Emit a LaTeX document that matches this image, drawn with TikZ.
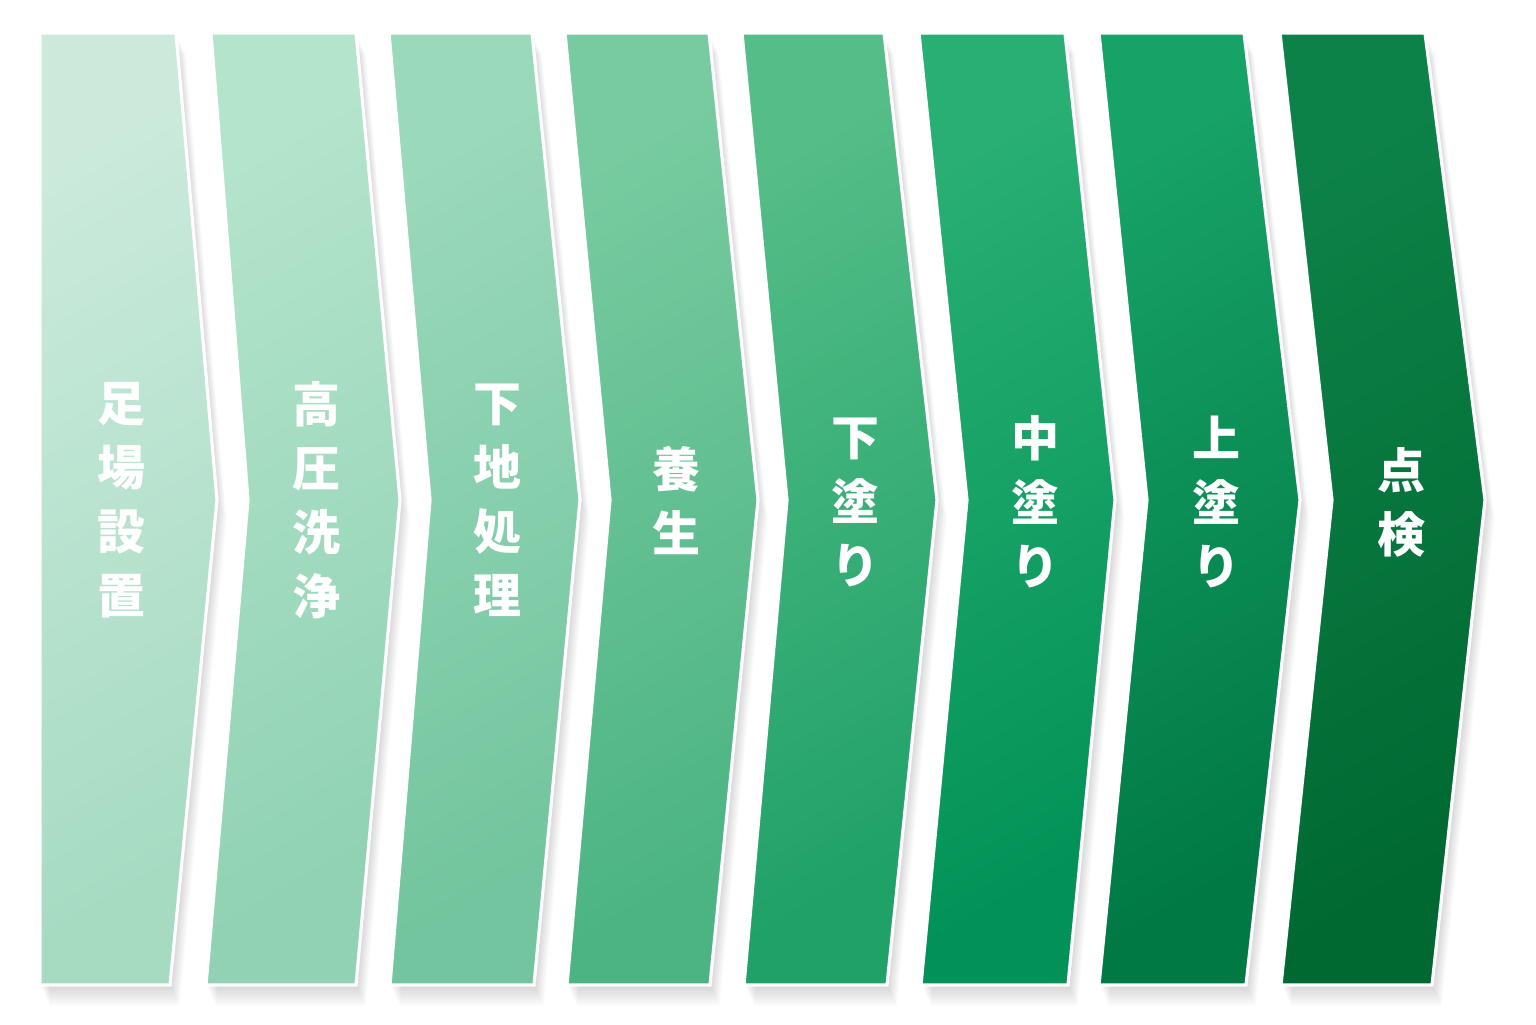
\documentclass[tikz,border=0pt]{standalone}
\usepackage{fontspec}
\newfontfamily\jp{Noto Sans CJK JP}
\definecolor{t1}{HTML}{CBEADC}\definecolor{b1}{HTML}{A6DBC2}
\definecolor{t2}{HTML}{B4E4CC}\definecolor{b2}{HTML}{90D2B3}
\definecolor{t3}{HTML}{9BD9BB}\definecolor{b3}{HTML}{72C59E}
\definecolor{t4}{HTML}{78CBA0}\definecolor{b4}{HTML}{4CB483}
\definecolor{t5}{HTML}{55BD88}\definecolor{b5}{HTML}{1FA168}
\definecolor{t6}{HTML}{29AF73}\definecolor{b6}{HTML}{029257}
\definecolor{t7}{HTML}{17A267}\definecolor{b7}{HTML}{007945}
\definecolor{t8}{HTML}{0D8248}\definecolor{b8}{HTML}{006932}
\def\chA{(40,33) -- (176,33) -- (217,500) -- (170,985) -- (40,985) -- cycle}
\def\chB{(211,33) -- (356,33) -- (400,500) -- (356,985) -- (206,985) -- (248,500) -- cycle}
\def\chC{(389,33) -- (532,33) -- (580,500) -- (534,985) -- (390,985) -- (430,500) -- cycle}
\def\chD{(565,33) -- (709,33) -- (758,500) -- (710,985) -- (567,985) -- (610,500) -- cycle}
\def\chE{(742,33) -- (884,33) -- (937,500) -- (887,985) -- (744,985) -- (787,500) -- cycle}
\def\chF{(919,33) -- (1065,33) -- (1115,500) -- (1068,985) -- (921,985) -- (967,500) -- cycle}
\def\chG{(1099,33) -- (1244,33) -- (1300,500) -- (1246,985) -- (1099,985) -- (1147,500) -- cycle}
\def\chH{(1280,33) -- (1425,33) -- (1485,500) -- (1432,985) -- (1281,985) -- (1332,500) -- cycle}
\tikzset{
  chev/.style={draw=white, line width=1.6pt, line join=miter, shading angle=30},
  shd/.style={fill=black, fill opacity=0.012},
  lbl/.style={text=white, font=\jp\bfseries\fontsize{24}{32}\selectfont,
    align=center, inner sep=0pt},
}
\begin{document}
\begin{tikzpicture}[x=0.5pt, y=-0.5pt]
\useasboundingbox[fill=white] (0,0) rectangle (1536,1024);
% soft shadows
\foreach \k in {1,...,14}{
  \foreach \p in {\chA,\chB,\chC,\chD,\chE,\chF,\chG,\chH}{
    \path[shd, shift={(\k*0.7,\k*1.5)}] \p;
  }
}
% shapes
\path[chev, top color=t1, bottom color=b1, shading angle=30] \chA;
\path[chev, top color=t2, bottom color=b2, shading angle=30] \chB;
\path[chev, top color=t3, bottom color=b3, shading angle=30] \chC;
\path[chev, top color=t4, bottom color=b4, shading angle=30] \chD;
\path[chev, top color=t5, bottom color=b5, shading angle=30] \chE;
\path[chev, top color=t6, bottom color=b6, shading angle=30] \chF;
\path[chev, top color=t7, bottom color=b7, shading angle=30] \chG;
\path[chev, top color=t8, bottom color=b8, shading angle=30] \chH;
% labels
\node[lbl] (l1) at (121,500) {足\\場\\設\\置};
\node[lbl] (l2) at (316,500) {高\\圧\\洗\\浄};
\node[lbl] (l3) at (497,500) {下\\地\\処\\理};
\node[lbl] (l4) at (676,500) {養\\生};
\node[lbl] (l5) at (855,502) {下\\塗\\り};
\node[lbl] (l6) at (1035,502) {中\\塗\\り};
\node[lbl] (l7) at (1216,502) {上\\塗\\り};
\node[lbl] (l8) at (1401,502) {点\\検};
\end{tikzpicture}
\end{document}
